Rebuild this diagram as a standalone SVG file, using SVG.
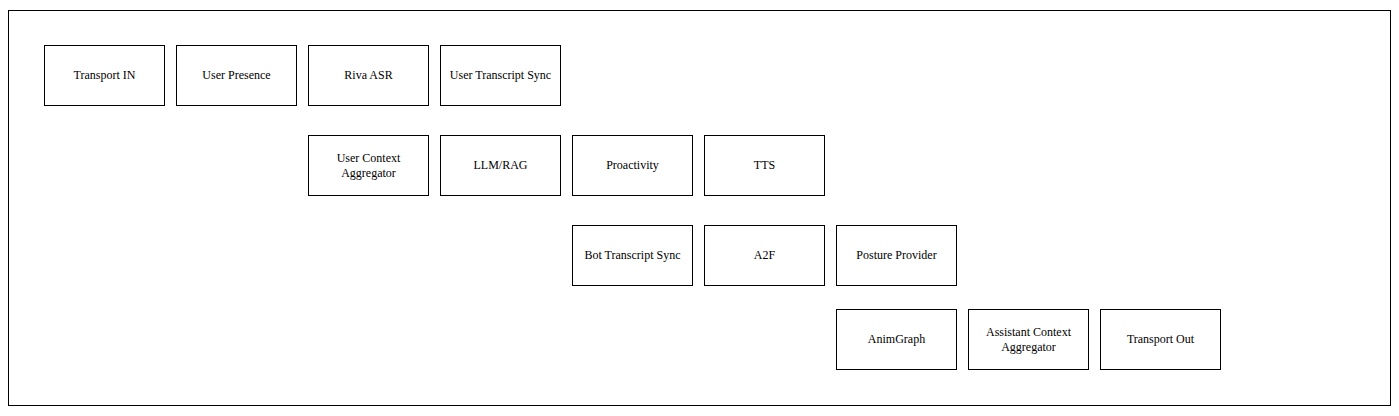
<svg xmlns="http://www.w3.org/2000/svg" width="1399" height="416" viewBox="0 0 1399 416">
<style>
.b{fill:#fff;stroke:#000;stroke-width:1}
.t{font-family:"Liberation Serif","Times New Roman",serif;font-size:12px;fill:#000;text-anchor:middle;dominant-baseline:central}
</style>
<rect x="8.5" y="10.5" width="1382" height="395" fill="#fff" stroke="#000"/>
<g id="connectors"></g>
<g id="transport_in"><rect class="b" x="44.5" y="45.5" width="120" height="60"/><text class="t" x="104.5" y="74.5">Transport IN</text></g>
<g id="user_presence"><rect class="b" x="176.5" y="45.5" width="120" height="60"/><text class="t" x="236.5" y="74.5">User Presence</text></g>
<g id="riva_asr"><rect class="b" x="308.5" y="45.5" width="120" height="60"/><text class="t" x="368.5" y="74.5">Riva ASR</text></g>
<g id="user_transcript_sync"><rect class="b" x="440.5" y="45.5" width="120" height="60"/><text class="t" x="500.5" y="74.5">User Transcript Sync</text></g>
<g id="user_context_aggregator"><rect class="b" x="308.5" y="135.5" width="120" height="60"/><text class="t" x="368.5" y="157.5">User Context</text><text class="t" x="368.5" y="172.5">Aggregator</text></g>
<g id="llm_rag"><rect class="b" x="440.5" y="135.5" width="120" height="60"/><text class="t" x="500.5" y="164.5">LLM/RAG</text></g>
<g id="proactivity"><rect class="b" x="572.5" y="135.5" width="120" height="60"/><text class="t" x="632.5" y="164.5">Proactivity</text></g>
<g id="tts"><rect class="b" x="704.5" y="135.5" width="120" height="60"/><text class="t" x="764.5" y="164.5">TTS</text></g>
<g id="bot_transcript_sync"><rect class="b" x="572.5" y="225.5" width="120" height="60"/><text class="t" x="632.5" y="254.5">Bot Transcript Sync</text></g>
<g id="a2f"><rect class="b" x="704.5" y="225.5" width="120" height="60"/><text class="t" x="764.5" y="254.5">A2F</text></g>
<g id="posture_provider"><rect class="b" x="836.5" y="225.5" width="120" height="60"/><text class="t" x="896.5" y="254.5">Posture Provider</text></g>
<g id="animgraph"><rect class="b" x="836.5" y="309.5" width="120" height="60"/><text class="t" x="896.5" y="338.5">AnimGraph</text></g>
<g id="assistant_context_aggregator"><rect class="b" x="968.5" y="309.5" width="120" height="60"/><text class="t" x="1028.5" y="331.5">Assistant Context</text><text class="t" x="1028.5" y="346.5">Aggregator</text></g>
<g id="transport_out"><rect class="b" x="1100.5" y="309.5" width="120" height="60"/><text class="t" x="1160.5" y="338.5">Transport Out</text></g>
</svg>
